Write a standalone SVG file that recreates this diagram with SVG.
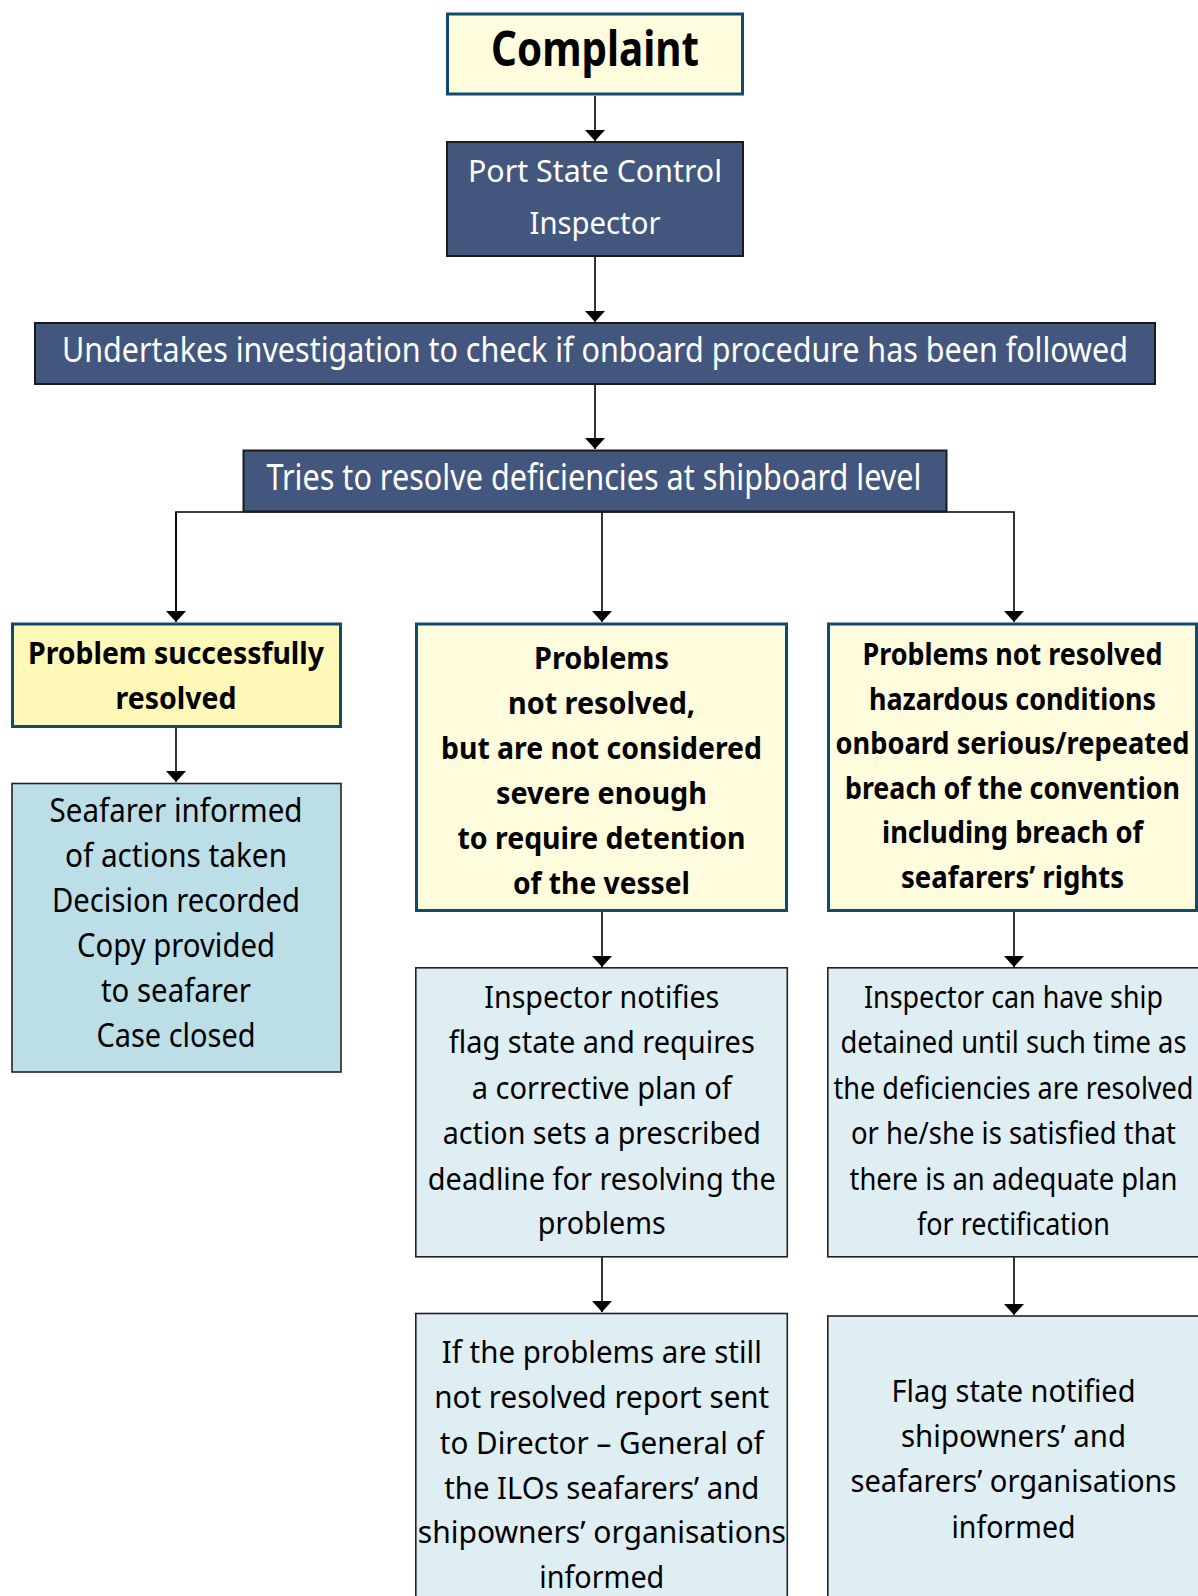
<svg xmlns="http://www.w3.org/2000/svg" width="1198" height="1596" viewBox="0 0 1198 1596">
<style>
.yel{fill:#fffbdd;stroke:#0f4b6d;stroke-width:3}
.yel2{fill:#fff8b6;stroke:#0f4b6d;stroke-width:3}
.navy{fill:#43577e;stroke:#1b1b1b;stroke-width:2}
.lb{fill:#bcdee6;stroke:#222;stroke-width:1.6}
.pb{fill:#dfeef2;stroke:#222;stroke-width:1.6}
text{font-family:"Noto Sans","Open Sans",sans-serif;text-anchor:middle;fill:#000}
.w{fill:#fff}
.b{font-weight:700}
.conn{fill:none;stroke:#000;stroke-width:1.6}
</style>
<defs>
<marker id="ah" viewBox="0 0 11 20" refX="11" refY="10" markerWidth="11" markerHeight="20" markerUnits="userSpaceOnUse" orient="auto">
<path d="M0,0 L11,10 L0,20 z" fill="#000"/>
</marker>
</defs>
<g id="connectors">
<path class="conn" d="M595,96 V141" marker-end="url(#ah)"/>
<path class="conn" d="M595,257 V322" marker-end="url(#ah)"/>
<path class="conn" d="M595,385 V449" marker-end="url(#ah)"/>
<path class="conn" d="M176,622 V512 H1014 V622" marker-end="url(#ah)"/>
<path class="conn" d="M176,512 V622" marker-end="url(#ah)"/>
<path class="conn" d="M602,512 V622" marker-end="url(#ah)"/>
<path class="conn" d="M176,728 V782" marker-end="url(#ah)"/>
<path class="conn" d="M602,912 V967" marker-end="url(#ah)"/>
<path class="conn" d="M1014,912 V967" marker-end="url(#ah)"/>
<path class="conn" d="M602,1257 V1312" marker-end="url(#ah)"/>
<path class="conn" d="M1014,1257 V1315" marker-end="url(#ah)"/>
</g>
<g id="complaint">
<rect class="yel" x="447.5" y="14" width="295" height="80"/>
<text class="b" x="595" y="66" font-size="49" textLength="208" lengthAdjust="spacingAndGlyphs">Complaint</text>
</g>
<g id="psc">
<rect class="navy" x="447" y="142" width="296" height="114"/>
<text class="w" x="595" y="181.7" font-size="31.5" textLength="254" lengthAdjust="spacingAndGlyphs">Port State Control</text>
<text class="w" x="595" y="234.3" font-size="31.5" textLength="131" lengthAdjust="spacingAndGlyphs">Inspector</text>
</g>
<g id="investigation">
<rect class="navy" x="35" y="323" width="1120" height="61"/>
<text class="w" x="595" y="362.3" font-size="35" textLength="1066" lengthAdjust="spacingAndGlyphs">Undertakes investigation to check if onboard procedure has been followed</text>
</g>
<g id="resolve">
<rect class="navy" x="243.5" y="450.5" width="703" height="61"/>
<text class="w" x="594" y="490" font-size="35.5" textLength="655" lengthAdjust="spacingAndGlyphs">Tries to resolve deficiencies at shipboard level</text>
</g>
<g id="resolved">
<rect class="yel2" x="12.5" y="624" width="328" height="102.5"/>
<text class="b" x="176" y="664" font-size="30" textLength="296" lengthAdjust="spacingAndGlyphs">Problem successfully</text>
<text class="b" x="176" y="708.7" font-size="30" textLength="121" lengthAdjust="spacingAndGlyphs">resolved</text>
</g>
<g id="not-severe">
<rect class="yel" x="416.5" y="624" width="370" height="286.5"/>
<text class="b" x="601.5" y="669" font-size="30" textLength="135" lengthAdjust="spacingAndGlyphs">Problems</text>
<text class="b" x="601.5" y="714" font-size="30" textLength="187" lengthAdjust="spacingAndGlyphs">not resolved,</text>
<text class="b" x="601.5" y="759" font-size="30" textLength="321" lengthAdjust="spacingAndGlyphs">but are not considered</text>
<text class="b" x="601.5" y="804" font-size="30" textLength="211" lengthAdjust="spacingAndGlyphs">severe enough</text>
<text class="b" x="601.5" y="848.5" font-size="30" textLength="288" lengthAdjust="spacingAndGlyphs">to require detention</text>
<text class="b" x="601.5" y="894" font-size="30" textLength="177" lengthAdjust="spacingAndGlyphs">of the vessel</text>
</g>
<g id="hazardous">
<rect class="yel" x="828.5" y="624" width="368" height="286.5"/>
<text class="b" x="1012.5" y="665" font-size="30" textLength="300" lengthAdjust="spacingAndGlyphs">Problems not resolved</text>
<text class="b" x="1012.5" y="709.6" font-size="30" textLength="287" lengthAdjust="spacingAndGlyphs">hazardous conditions</text>
<text class="b" x="1012.5" y="754.2" font-size="30" textLength="354" lengthAdjust="spacingAndGlyphs">onboard serious/repeated</text>
<text class="b" x="1012.5" y="798.8" font-size="30" textLength="335" lengthAdjust="spacingAndGlyphs">breach of the convention</text>
<text class="b" x="1012.5" y="843.4" font-size="30" textLength="261" lengthAdjust="spacingAndGlyphs">including breach of</text>
<text class="b" x="1012.5" y="888" font-size="30" textLength="223" lengthAdjust="spacingAndGlyphs">seafarers’ rights</text>
</g>
<g id="case-closed">
<rect class="lb" x="12" y="783.5" width="329" height="288.5"/>
<text x="176" y="821.7" font-size="33.5" textLength="253" lengthAdjust="spacingAndGlyphs">Seafarer informed</text>
<text x="176" y="866.7" font-size="33.5" textLength="222" lengthAdjust="spacingAndGlyphs">of actions taken</text>
<text x="176" y="911.7" font-size="33.5" textLength="248" lengthAdjust="spacingAndGlyphs">Decision recorded</text>
<text x="176" y="956.7" font-size="33.5" textLength="198" lengthAdjust="spacingAndGlyphs">Copy provided</text>
<text x="176" y="1001.7" font-size="33.5" textLength="150" lengthAdjust="spacingAndGlyphs">to seafarer</text>
<text x="176" y="1046.7" font-size="33.5" textLength="159" lengthAdjust="spacingAndGlyphs">Case closed</text>
</g>
<g id="notify-flag">
<rect class="pb" x="415.8" y="967.8" width="371.5" height="289"/>
<text x="601.8" y="1008.3" font-size="31" textLength="235" lengthAdjust="spacingAndGlyphs">Inspector notifies</text>
<text x="601.8" y="1053.3" font-size="31" textLength="306" lengthAdjust="spacingAndGlyphs">flag state and requires</text>
<text x="601.8" y="1099" font-size="31" textLength="260" lengthAdjust="spacingAndGlyphs">a corrective plan of</text>
<text x="601.8" y="1144" font-size="31" textLength="318" lengthAdjust="spacingAndGlyphs">action sets a prescribed</text>
<text x="601.8" y="1190" font-size="31" textLength="348" lengthAdjust="spacingAndGlyphs">deadline for resolving the</text>
<text x="601.8" y="1234.3" font-size="31" textLength="128" lengthAdjust="spacingAndGlyphs">problems</text>
</g>
<g id="detain">
<rect class="pb" x="827.8" y="967.8" width="372" height="289"/>
<text x="1013.5" y="1008.3" font-size="31" textLength="299" lengthAdjust="spacingAndGlyphs">Inspector can have ship</text>
<text x="1013.5" y="1053.3" font-size="31" textLength="346" lengthAdjust="spacingAndGlyphs">detained until such time as</text>
<text x="1013.5" y="1099" font-size="31" textLength="360" lengthAdjust="spacingAndGlyphs">the deficiencies are resolved</text>
<text x="1013.5" y="1144" font-size="31" textLength="325" lengthAdjust="spacingAndGlyphs">or he/she is satisfied that</text>
<text x="1013.5" y="1190" font-size="31" textLength="328" lengthAdjust="spacingAndGlyphs">there is an adequate plan</text>
<text x="1013.5" y="1235" font-size="31" textLength="193" lengthAdjust="spacingAndGlyphs">for rectification</text>
</g>
<g id="report-ilo">
<rect class="pb" x="415.8" y="1313.5" width="371.5" height="300"/>
<text x="601.8" y="1363.3" font-size="31" textLength="320" lengthAdjust="spacingAndGlyphs">If the problems are still</text>
<text x="601.8" y="1408.3" font-size="31" textLength="335" lengthAdjust="spacingAndGlyphs">not resolved report sent</text>
<text x="601.8" y="1454" font-size="31" textLength="324" lengthAdjust="spacingAndGlyphs">to Director – General of</text>
<text x="601.8" y="1498.7" font-size="31" textLength="315" lengthAdjust="spacingAndGlyphs">the ILOs seafarers’ and</text>
<text x="601.8" y="1543.3" font-size="31" textLength="368" lengthAdjust="spacingAndGlyphs">shipowners’ organisations</text>
<text x="601.8" y="1588.3" font-size="31" textLength="125" lengthAdjust="spacingAndGlyphs">informed</text>
</g>
<g id="flag-notified">
<rect class="pb" x="827.8" y="1316" width="372" height="300"/>
<text x="1013.5" y="1401.7" font-size="31" textLength="244" lengthAdjust="spacingAndGlyphs">Flag state notified</text>
<text x="1013.5" y="1446.7" font-size="31" textLength="225" lengthAdjust="spacingAndGlyphs">shipowners’ and</text>
<text x="1013.5" y="1492.3" font-size="31" textLength="326" lengthAdjust="spacingAndGlyphs">seafarers’ organisations</text>
<text x="1013.5" y="1538.3" font-size="31" textLength="124" lengthAdjust="spacingAndGlyphs">informed</text>
</g>
</svg>
